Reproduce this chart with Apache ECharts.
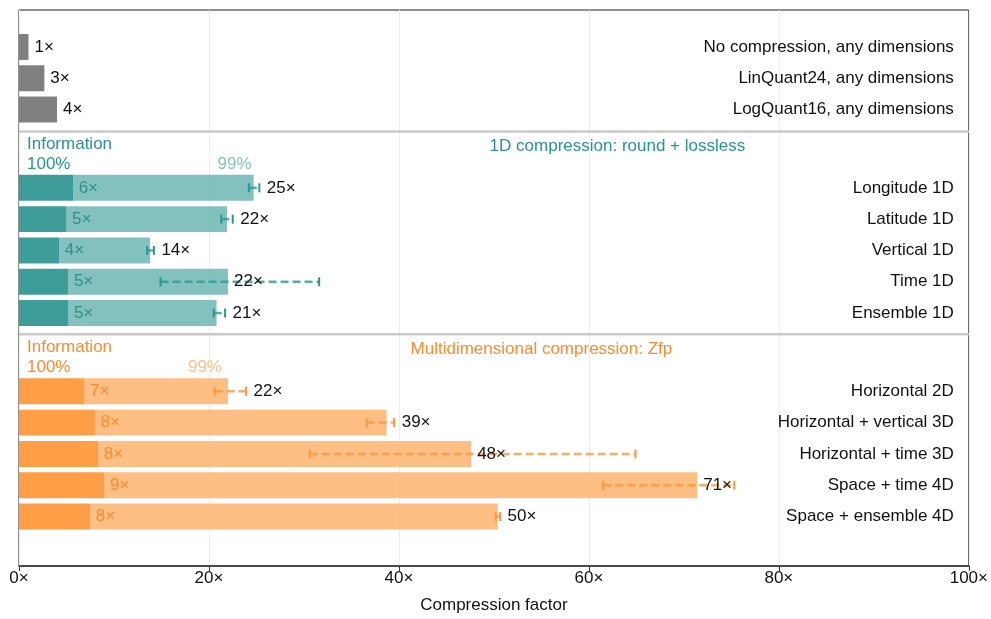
<!DOCTYPE html>
<html>
<head>
<meta charset="utf-8">
<script src="https://cdn.jsdelivr.net/npm/echarts@6/dist/echarts.min.js"></script>
<style>
  html, body { margin: 0; padding: 0; background: #fff; }
  #chart { width: 991px; height: 619px; }
</style>
</head>
<body>
<div id="chart"></div>
<script>
// ---- Data ---------------------------------------------------------------
// Baseline encodings (compression factor)
const baseNames  = ['No compression, any dimensions', 'LinQuant24, any dimensions', 'LogQuant16, any dimensions'];
const baseFactor = [1, 2.67, 4];
const baseRows   = [1, 2, 3];

// 1D compression: round + lossless
const roundNames = ['Longitude 1D', 'Latitude 1D', 'Vertical 1D', 'Time 1D', 'Ensemble 1D'];
const roundFull  = [5.7, 5.0, 4.25, 5.2, 5.2];      // 100% information preserved
const round99    = [24.7, 21.9, 13.8, 22.0, 20.8];  // 99% information preserved
const roundLo    = [24.2, 21.3, 13.5, 14.9, 20.5];
const roundHi    = [25.3, 22.5, 14.2, 31.6, 21.7];
const roundRows  = [5.5, 6.5, 7.5, 8.5, 9.5];

// Multidimensional compression: Zfp
const zfpNames = ['Horizontal 2D', 'Horizontal + vertical 3D', 'Horizontal + time 3D', 'Space + time 4D', 'Space + ensemble 4D'];
const zfpFull  = [6.9, 8.0, 8.35, 9.0, 7.5];
const zfp99    = [22.0, 38.7, 47.6, 71.4, 50.4];
const zfpLo    = [20.6, 36.6, 30.6, 61.5, 50.2];
const zfpHi    = [23.9, 39.5, 64.9, 75.3, 50.65];
const zfpRows  = [12, 13, 14, 15, 16];

// Section headers and dividers (row coordinates)
const sectionTitles = ['1D compression: round + lossless', 'Multidimensional compression: Zfp'];
const dividerRows   = [3.7, 10.18];
const xTicks        = [0, 20, 40, 60, 80, 100];

// ---- Style ----------------------------------------------------------------
const FONT = '"Liberation Sans", Arial, Helvetica, sans-serif';
const FS = 17;
const BAR_H = 0.83;
const teal = { dark: 'rgba(41,145,142,0.9)', light: 'rgba(117,186,184,0.9)', text: '#2a938e', faint: '#86c4c1',
               errDash: 'rgba(46,153,147,0.8)', errCap: 'rgba(40,150,144,1)' };
const orange = { dark: 'rgba(255,147,51,0.9)', light: 'rgba(255,183,119,0.9)', text: '#f98d30', faint: '#ffbf88',
                 errDash: 'rgba(255,150,60,0.8)', errCap: 'rgba(255,150,60,1)' };

const fmt = v => Math.round(v) + '×';

function txt(x, y, text, fill, align) {
  return { type: 'text', style: { x, y, text, fill, align, verticalAlign: 'middle', fontSize: FS, fontFamily: FONT } };
}

// Horizontal bar segment from start to end on a row
function barSeries(starts, ends, rows, color) {
  return {
    type: 'custom', z: 2,
    data: rows.map((r, i) => [starts ? starts[i] : 0, ends[i], r]),
    encode: { x: [0, 1], y: 2 },
    renderItem(params, api) {
      const y = api.value(2);
      const p0 = api.coord([api.value(0), y]);
      const p1 = api.coord([api.value(1), y]);
      const h = api.size([0, BAR_H])[1];
      return { type: 'rect', shape: { x: p0[0], y: p0[1] - h / 2, width: p1[0] - p0[0], height: h }, style: { fill: color } };
    }
  };
}

// Dashed range with end caps
function errSeries(lo, hi, rows, c) {
  return {
    type: 'custom', z: 3,
    data: rows.map((r, i) => [lo[i], hi[i], r]),
    encode: { x: [0, 1], y: 2 },
    renderItem(params, api) {
      const y = api.value(2);
      const a = api.coord([api.value(0), y]);
      const b = api.coord([api.value(1), y]);
      const cap = 4.5;
      return { type: 'group', children: [
        { type: 'line', shape: { x1: a[0], y1: a[1], x2: b[0], y2: b[1] }, style: { stroke: c.errDash, lineWidth: 2.5, lineDash: [8, 4] } },
        { type: 'line', shape: { x1: a[0], y1: a[1] - cap, x2: a[0], y2: a[1] + cap }, style: { stroke: c.errCap, lineWidth: 2 } },
        { type: 'line', shape: { x1: b[0], y1: b[1] - cap, x2: b[0], y2: b[1] + cap }, style: { stroke: c.errCap, lineWidth: 2 } }
      ]};
    }
  };
}

// Text placed at data coordinates, shifted by dx pixels
function textSeries(items, z) {
  return {
    type: 'custom', z: z || 5,
    data: items.map(it => [it.x, it.y]),
    encode: { x: 0, y: 1 },
    renderItem(params, api) {
      const it = items[params.dataIndex];
      const p = api.coord([api.value(0), api.value(1)]);
      return txt(p[0] + (it.dx || 0), p[1], it.text, it.color, it.align || 'left');
    }
  };
}

// Value label after the bar, or after a narrow range's upper cap
function valueLabels(vals, lo, hi, rows) {
  return rows.map((r, i) => {
    const atCap = hi && (hi[i] - lo[i]) < 5;
    return { x: atCap ? hi[i] : vals[i], y: r, dx: atCap ? 7.5 : 6, text: fmt(vals[i]), color: '#111' };
  });
}

const labelItems = [].concat(
  valueLabels(baseFactor, null, null, baseRows),
  valueLabels(round99, roundLo, roundHi, roundRows),
  valueLabels(zfp99, zfpLo, zfpHi, zfpRows),
  roundRows.map((r, i) => ({ x: roundFull[i], y: r, dx: 5.5, text: fmt(roundFull[i]), color: teal.text })),
  zfpRows.map((r, i) => ({ x: zfpFull[i], y: r, dx: 5.5, text: fmt(zfpFull[i]), color: orange.text })),
  baseRows.map((r, i) => ({ x: 100, y: r, dx: -15, text: baseNames[i], color: '#111', align: 'right' })),
  roundRows.map((r, i) => ({ x: 100, y: r, dx: -15, text: roundNames[i], color: '#111', align: 'right' })),
  zfpRows.map((r, i) => ({ x: 100, y: r, dx: -15, text: zfpNames[i], color: '#111', align: 'right' }))
);

function headerItems(firstRow, first99, c, title, titleX, faintDx) {
  return [
    { x: 0, y: firstRow - 1.39, dx: 8, text: 'Information', color: c.text },
    { x: 0, y: firstRow - 0.76, dx: 8, text: '100%', color: c.text },
    { x: first99, y: firstRow - 0.76, dx: faintDx, text: '99%', color: c.faint, align: 'right' },
    { x: titleX, y: firstRow - 1.33, dx: 0, text: title, color: c.text, align: 'center' }
  ];
}
const headers = [].concat(
  headerItems(roundRows[0], round99[0], teal, sectionTitles[0], 63, -2),
  headerItems(zfpRows[0], zfp99[0], orange, sectionTitles[1], 55, -6)
);

const dividerSeries = {
  type: 'custom', z: 1,
  data: dividerRows.map(r => [0, 100, r]),
  encode: { x: [0, 1], y: 2 },
  renderItem(params, api) {
    const y = api.value(2);
    const a = api.coord([api.value(0), y]);
    const b = api.coord([api.value(1), y]);
    return { type: 'line', shape: { x1: a[0], y1: a[1], x2: b[0], y2: b[1] }, style: { stroke: '#cacaca', lineWidth: 2.5 } };
  }
};

const chart = echarts.init(document.getElementById('chart'), null, { renderer: 'canvas' });
chart.setOption({
  animation: false,
  backgroundColor: '#fff',
  grid: { left: 19, right: 20, top: 10, bottom: 50, show: true, borderColor: '#222', borderWidth: 1, backgroundColor: 'transparent' },
  xAxis: {
    type: 'value', min: xTicks[0], max: xTicks[xTicks.length - 1], interval: 20,
    axisLine: { show: true, onZero: false, lineStyle: { color: '#333', width: 1.5 } },
    axisTick: { show: true, length: 5, lineStyle: { color: '#333' } },
    axisLabel: { formatter: v => v + '×', fontSize: FS, fontFamily: FONT, color: '#111', margin: 4 },
    splitLine: { show: true, lineStyle: { color: '#ececec', width: 1 } },
    name: 'Compression factor', nameLocation: 'middle', nameGap: 31,
    nameTextStyle: { fontSize: FS, fontFamily: FONT, color: '#111' }
  },
  yAxis: { type: 'value', inverse: true, min: -0.18, max: 17.58, show: false },
  series: [
    dividerSeries,
    barSeries(null, baseFactor, baseRows, '#808080'),
    barSeries(roundFull, round99, roundRows, teal.light),
    barSeries(null, roundFull, roundRows, teal.dark),
    barSeries(zfpFull, zfp99, zfpRows, orange.light),
    barSeries(null, zfpFull, zfpRows, orange.dark),
    errSeries(roundLo, roundHi, roundRows, teal),
    errSeries(zfpLo, zfpHi, zfpRows, orange),
    textSeries(labelItems),
    textSeries(headers)
  ]
});
</script>
</body>
</html>
